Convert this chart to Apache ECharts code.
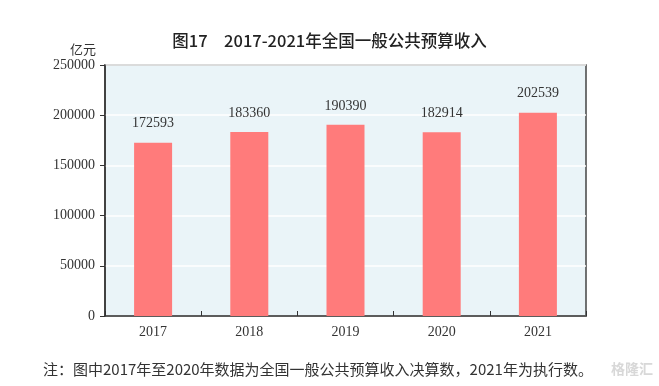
<!DOCTYPE html>
<html><head><meta charset="utf-8">
<script src="https://cdn.jsdelivr.net/npm/echarts@6/dist/echarts.min.js"></script>
<style>html,body{margin:0;padding:0;background:#fff}#c{width:659px;height:386px}</style>
</head><body><div id="c"></div>
<script>
const categories = ['2017','2018','2019','2020','2021'];
const revenue = [172593, 183360, 190390, 182914, 202539];
const yTicks = [0, 50000, 100000, 150000, 200000, 250000];

const chart = echarts.init(document.getElementById('c'));
const serif = '"Liberation Serif", "DejaVu Serif", serif';
const cjk = '"Noto Sans CJK SC", sans-serif';
chart.setOption({
  animation: false,
  backgroundColor: '#fff',
  textStyle: {fontFamily: serif},
  title: [{
    text: '图17　2017-2021年全国一般公共预算收入',
    left: 'center', top: 27,
    textStyle: {fontFamily: cjk, fontSize: 16.5, fontWeight: 500, color: '#222'}
  }, {
    text: '注：图中2017年至2020年数据为全国一般公共预算收入决算数，2021年为执行数。',
    left: 38, top: 357,
    textStyle: {fontFamily: cjk, fontSize: 15, fontWeight: 'normal', color: '#333'}
  }, {
    text: '格隆汇',
    left: 606, top: 357,
    textStyle: {fontFamily: cjk, fontSize: 14, fontWeight: 'bold', color: '#d8d8d8'}
  }],
  grid: {left: 105, right: 73, top: 65, bottom: 70, show: true,
         backgroundColor: '#EAF4F8', borderColor: '#444', borderWidth: 1.5},
  xAxis: {
    type: 'category', data: categories,
    axisLine: {show: true, lineStyle: {color: '#333', width: 1.5}},
    axisTick: {show: true, inside: true, length: 5, lineStyle: {color: '#333'}},
    axisLabel: {fontFamily: serif, fontSize: 14, color: '#333', margin: 9}
  },
  yAxis: {
    type: 'value', min: yTicks[0], max: yTicks[yTicks.length-1], interval: 50000,
    name: '亿元', nameLocation: 'end', nameGap: 9,
    nameTextStyle: {fontFamily: cjk, fontSize: 13, color: '#333', align: 'right', padding: [0, 9, 0, 0]},
    axisLine: {show: true, lineStyle: {color: '#333', width: 1.5}},
    axisTick: {show: true, length: 5, lineStyle: {color: '#333'}},
    splitLine: {show: true, lineStyle: {color: '#fff', width: 1.5}},
    axisLabel: {fontFamily: serif, fontSize: 14, color: '#333', margin: 10,
                formatter: v => '{s|' + v + '}',
                rich: {s: {fontFamily: serif, fontSize: 14, color: '#333'}}}
  },
  series: [{
    type: 'bar', data: revenue, barWidth: 38,
    itemStyle: {color: '#FF7B7B'},
    label: {show: true, position: 'top', distance: 12, fontFamily: serif, fontSize: 14, color: '#333'}
  }]
});
</script></body></html>
